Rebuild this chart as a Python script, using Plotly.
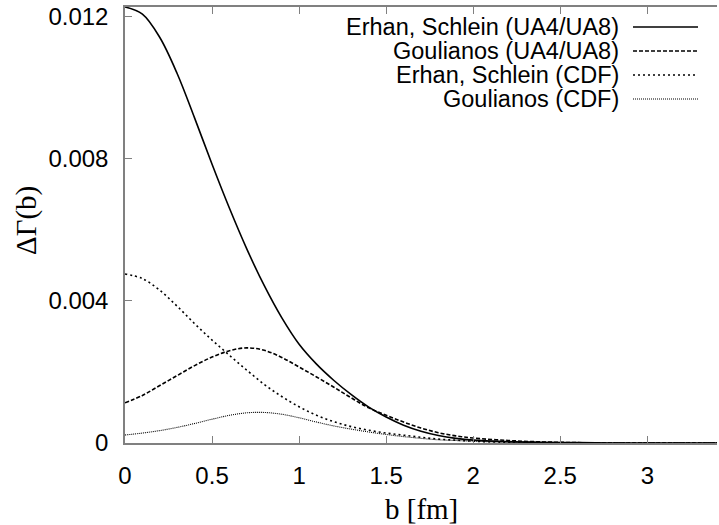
import plotly.graph_objects as go

# ---- data ----
b = [0.0, 0.1, 0.2, 0.3, 0.4, 0.5, 0.6, 0.7, 0.8, 0.9, 1.0, 1.1, 1.2, 1.3, 1.4,
     1.5, 1.6, 1.7, 1.8, 1.9, 2.0, 2.2, 2.4, 2.6, 2.8, 3.0, 3.2, 3.4]

erhan_ua = [0.01228, 0.01208, 0.01142, 0.01040, 0.00915, 0.00785, 0.00661, 0.00546,
            0.00443, 0.00353, 0.00278, 0.00222, 0.00176, 0.00136, 0.00101, 0.00073,
            0.00050, 0.00033, 0.00021, 0.00013, 0.00008, 0.00004, 0.00002, 0.00001,
            0.0, 0.0, 0.0, 0.0]

goul_ua = [0.00113, 0.00134, 0.00162, 0.00190, 0.00218, 0.00242, 0.00260, 0.00268,
           0.00261, 0.00241, 0.00214, 0.00186, 0.00157, 0.00127, 0.00099, 0.00078,
           0.00059, 0.00042, 0.00029, 0.00020, 0.00014, 0.00007, 0.00003, 0.00001,
           0.0, 0.0, 0.0, 0.0]

erhan_cdf = [0.00476, 0.00463, 0.00430, 0.00385, 0.00336, 0.00290, 0.00247, 0.00205,
             0.00165, 0.00131, 0.00102, 0.00078, 0.00060, 0.00046, 0.00036, 0.00028,
             0.00022, 0.00016, 0.00011, 0.00008, 0.00005, 0.00002, 0.00001, 0.0,
             0.0, 0.0, 0.0, 0.0]

goul_cdf = [0.000225, 0.00028, 0.00035, 0.00044, 0.00055, 0.00067, 0.00078, 0.00085,
            0.00086, 0.00081, 0.00071, 0.00059, 0.00048, 0.00039, 0.00031, 0.00024,
            0.00018, 0.00013, 0.00009, 0.00007, 0.00005, 0.00002, 0.00001, 0.0,
            0.0, 0.0, 0.0, 0.0]

series_names = ["Erhan, Schlein (UA4/UA8)", "Goulianos (UA4/UA8)",
                "Erhan, Schlein (CDF)", "Goulianos (CDF)"]
series_vals = [erhan_ua, goul_ua, erhan_cdf, goul_cdf]

x_tickvals = [0, 0.5, 1, 1.5, 2, 2.5, 3]
x_ticktext = ["0", "0.5", "1", "1.5", "2", "2.5", "3"]
y_tickvals = [0, 0.004, 0.008, 0.012]
y_ticktext = ["0", "0.004", "0.008", "0.012"]

x_title = "b [fm]"
y_title = "ΔΓ(b)"

# ---- styles ----
dashes = ["solid", "4px,2px", "2px,3px", "1px,1px"]
widths = [1.6, 1.6, 1.6, 1.1]

fig = go.Figure()
for name, vals, d, w in zip(series_names, series_vals, dashes, widths):
    fig.add_trace(go.Scatter(x=b, y=vals, mode="lines", name=name,
                             line=dict(color="black", width=w, dash=d,
                                       shape="spline", smoothing=1.0),
                             showlegend=False, hoverinfo="skip"))

W, H = 719, 525
L, R, T, B = 125, 2, 7, 82
fig.update_layout(
    width=W, height=H,
    margin=dict(l=L, r=R, t=T, b=B),
    paper_bgcolor="white", plot_bgcolor="white",
    font=dict(family="Liberation Sans, Arial, sans-serif", size=24, color="black"),
)
axis_common = dict(showgrid=False, zeroline=False, linecolor="#808080", linewidth=1.5,
                   ticks="inside", ticklen=7, tickcolor="#808080", tickwidth=1.2,
                   ticklabelstandoff=10)
fig.update_xaxes(range=[0, 3.4], tickvals=x_tickvals, ticktext=x_ticktext,
                 mirror="ticks", **axis_common)
fig.update_yaxes(range=[0, 0.01228], tickvals=y_tickvals, ticktext=y_ticktext,
                 mirror=False, **axis_common)

# axis titles
fig.add_annotation(text=x_title, xref="paper", yref="paper", x=0.5, y=0,
                   yanchor="middle", yshift=-(509 - (H - B)), showarrow=False,
                   font=dict(family="Liberation Serif, Times New Roman, serif", size=29))
fig.add_annotation(text=y_title, xref="paper", yref="paper", x=0, y=0.5,
                   xanchor="center", xshift=-(L - 26), yshift=(225 - 221),
                   textangle=-90, showarrow=False,
                   font=dict(family="Liberation Serif, Times New Roman, serif", size=29))

# legend (text right-aligned, sample line on the right)
plot_w = W - L - R
plot_h = H - T - B
text_right = 620
line_x0, line_x1 = 633, 698
row_y = [27, 51, 75, 99]
for name, d, w, ry in zip(series_names, dashes, widths, row_y):
    yp = 1 - (ry - T) / plot_h
    fig.add_annotation(text=name, xref="paper", yref="paper",
                       x=(text_right - L) / plot_w, y=yp, xanchor="right",
                       yanchor="middle", showarrow=False, borderpad=0,
                       font=dict(size=23.5))
    fig.add_shape(type="line", xref="paper", yref="paper",
                  x0=(line_x0 - L) / plot_w, x1=(line_x1 - L) / plot_w, y0=yp, y1=yp,
                  line=dict(color="black", width=w, dash=d))

fig.write_html("out.html",
               config={"displayModeBar": False},
               post_script="document.body.style.margin='0';document.body.style.overflow='hidden';")
